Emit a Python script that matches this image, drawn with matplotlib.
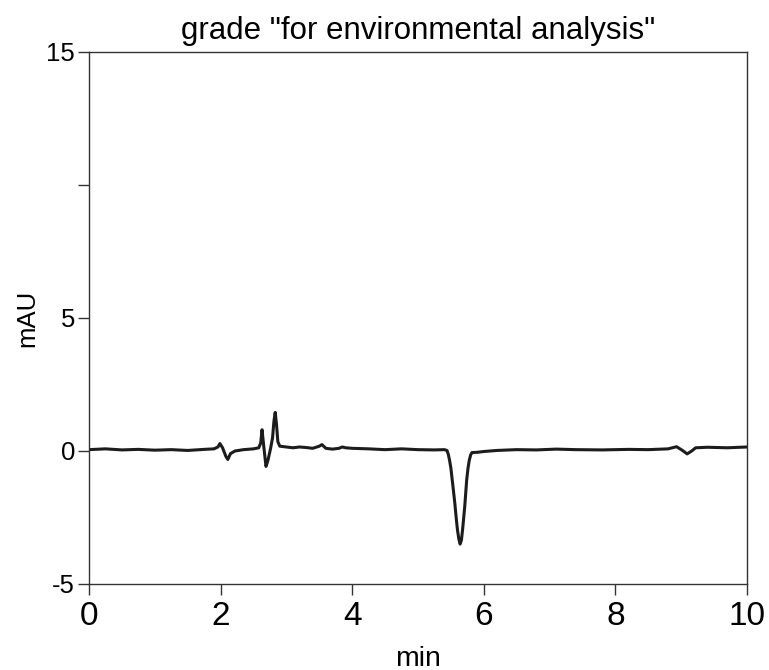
import matplotlib
matplotlib.use('Agg')
import matplotlib.pyplot as plt

# chromatogram: time (min) and signal (mAU)
times = [0.0, 0.25, 0.5, 0.75, 1.0, 1.25, 1.5, 1.75, 1.9,
         1.96, 1.99, 2.03, 2.08, 2.11, 2.15, 2.22, 2.35, 2.5, 2.58,
         2.61, 2.63, 2.655, 2.69, 2.72, 2.76, 2.79, 2.81, 2.83, 2.85, 2.87, 2.9,
         3.0, 3.1, 3.2, 3.3, 3.4, 3.5, 3.54, 3.6, 3.7, 3.8, 3.85, 3.9, 4.0,
         4.25, 4.5, 4.75, 5.0, 5.25, 5.4, 5.44,
         5.46, 5.48, 5.5, 5.53, 5.56, 5.58, 5.6, 5.62, 5.64, 5.66, 5.68, 5.71,
         5.74, 5.76, 5.78, 5.8, 5.82, 5.9, 6.0,
         6.2, 6.5, 6.8, 7.1, 7.4, 7.8, 8.2, 8.5, 8.8, 8.93, 9.02, 9.09, 9.16,
         9.22, 9.4, 9.7, 10.0]
signal = [0.05, 0.08, 0.04, 0.06, 0.03, 0.05, 0.02, 0.06, 0.08,
          0.15, 0.28, 0.12, -0.2, -0.32, -0.1, 0.0, 0.05, 0.08, 0.12,
          0.3, 0.8, 0.2, -0.58, -0.35, 0.1, 0.5, 1.1, 1.45, 1.0, 0.35, 0.18,
          0.15, 0.12, 0.15, 0.13, 0.1, 0.18, 0.24, 0.1, 0.07, 0.1, 0.15, 0.12, 0.1,
          0.08, 0.05, 0.08, 0.05, 0.04, 0.05, 0.02,
          -0.12, -0.35, -0.65, -1.3, -1.97, -2.5, -2.97, -3.3, -3.5, -3.35, -2.9, -2.1,
          -1.09, -0.65, -0.34, -0.15, -0.06, -0.05, -0.02,
          0.02, 0.05, 0.04, 0.07, 0.05, 0.04, 0.06, 0.05, 0.08, 0.16, 0.02, -0.11, 0.0,
          0.12, 0.14, 0.12, 0.15]

xticks = [0, 2, 4, 6, 8, 10]
yticks = [-5, 0, 5, 10, 15]
ylabels = ['-5', '0', '5', '', '15']

plt.rcParams['font.family'] = ['Liberation Sans', 'DejaVu Sans']

fig = plt.figure(figsize=(7.69, 6.7), dpi=100)
ax = fig.add_axes([0.1157, 0.1284, 0.8557, 0.7940])
ax.plot(times, signal, color='#1c1c1c', linewidth=2.2)

ax.set_xlim(0, 10)
ax.set_ylim(-5, 15)
ax.set_xticks(xticks)
ax.set_xticklabels([str(t) for t in xticks], fontsize=24)
ax.set_yticks(yticks)
ax.set_yticklabels(ylabels, fontsize=18.5)
ax.tick_params(axis='both', direction='out', length=8, width=1, color='#333333')
ax.tick_params(axis='x', pad=4)
ax.tick_params(axis='y', pad=2)
for s in ax.spines.values():
    s.set_linewidth(1)
    s.set_color('#333333')

ax.set_title('grade "for environmental analysis"', fontsize=22.5, pad=9)
ax.set_xlabel('min', fontsize=20.5, labelpad=10)
ax.set_ylabel('mAU', fontsize=18.5, labelpad=5)

fig.savefig('out.png', dpi=100)
